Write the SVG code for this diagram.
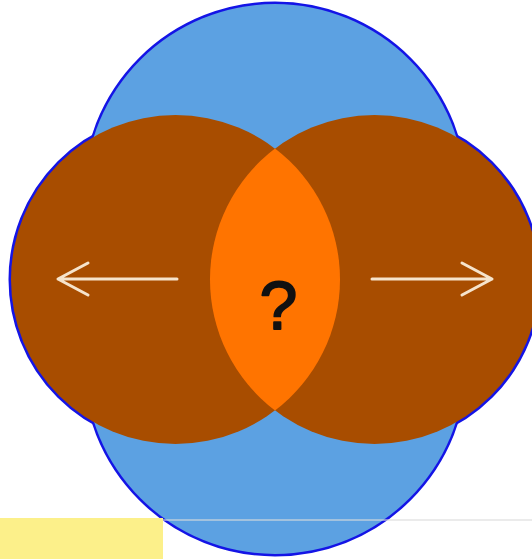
<svg xmlns="http://www.w3.org/2000/svg" width="532" height="559" viewBox="0 0 532 559">
  <style>
    .outline { fill: none; stroke: #1414e6; stroke-width: 5; }
    .base { fill: #5ca1e2; }
    .side { fill: #a84d00; }
    .overlap { fill: #ff7400; }
    .arrow { fill: none; stroke: #f6e4cc; stroke-width: 3; stroke-linecap: round; stroke-linejoin: round; }
    .mark { font-family: "Liberation Sans", "DejaVu Sans", sans-serif; font-size: 68px; font-weight: normal; fill: #111; stroke: #111; stroke-width: 1.8; stroke-linejoin: round; }
  </style>
  <defs>
    <!-- tall capsule: two arcs of r=190 joined by straight sides -->
    <path id="capsule" d="M85,194 A190,190 0 0 1 465,194 V364 A190,190 0 0 1 85,364 Z"/>
  </defs>
  <rect width="532" height="559" fill="#ffffff"/>

  <!-- outer blue outline of the union, mostly hidden by the fills drawn above it -->
  <g id="outlines">
    <use href="#capsule" class="outline"/>
    <circle class="outline" cx="175.5" cy="279.5" r="164.5"/>
    <circle class="outline" cx="374.5" cy="279.5" r="164.5"/>
  </g>

  <g id="node-whole">
    <use href="#capsule" class="base"/>
  </g>
  <g id="node-left">
    <circle class="side" cx="175.5" cy="279.5" r="164.5"/>
  </g>
  <g id="node-right">
    <circle class="side" cx="374.5" cy="279.5" r="164.5"/>
  </g>
  <g id="node-overlap">
    <path class="overlap" d="M275,148.5 A164.5,164.5 0 0 1 275,410.5 A164.5,164.5 0 0 1 275,148.5 Z"/>
    <text class="mark" x="278.5" y="328.5" text-anchor="middle">?</text>
  </g>

  <g id="connectors">
    <path class="arrow" d="M177,279 H58 M88,263 L58,279 L88,295"/>
    <path class="arrow" d="M372,279 H492 M462,263 L492,279 L462,295"/>
  </g>

  <!-- strip along the bottom edge -->
  <rect x="0" y="518" width="163" height="41" fill="#fcf08a"/>
  <line x1="163" y1="520" x2="532" y2="520" stroke="#dcdcdc" stroke-width="1.5" stroke-opacity="0.75"/>
</svg>
